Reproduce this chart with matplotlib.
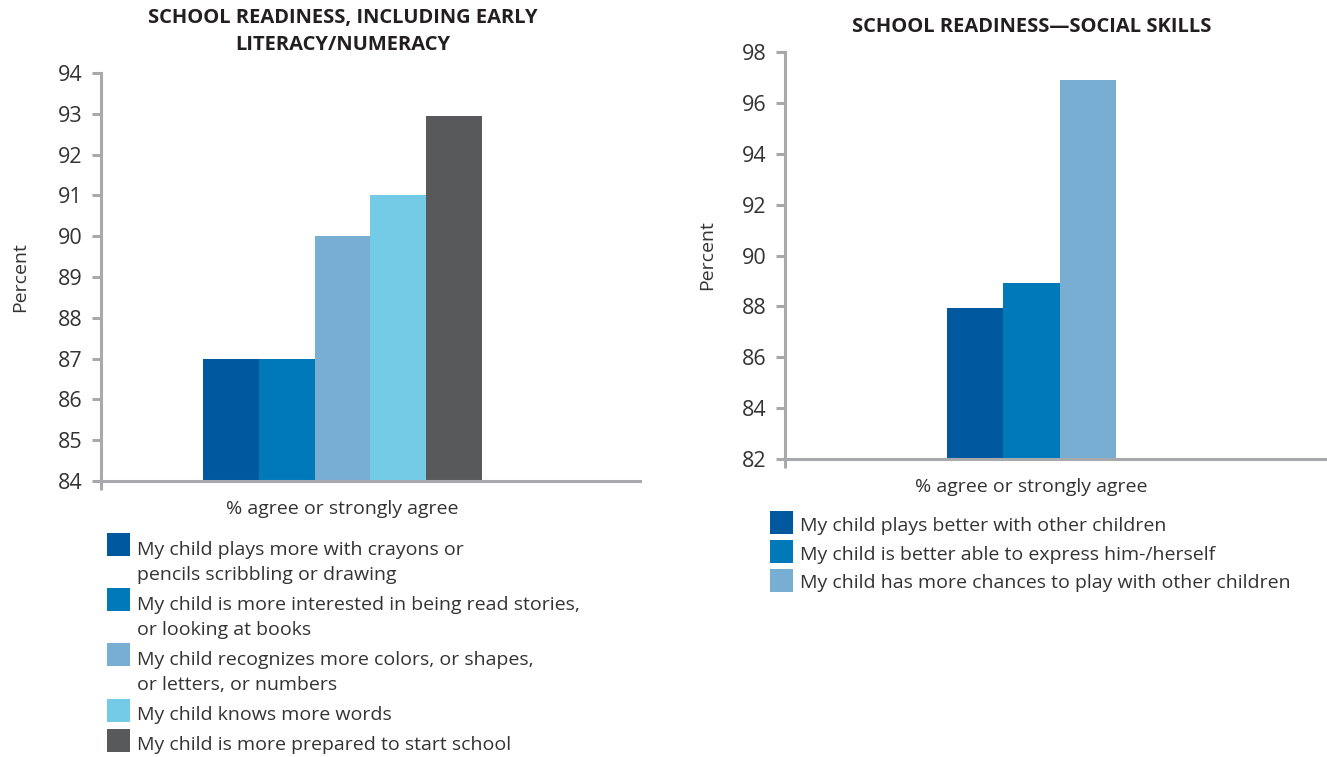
import matplotlib
matplotlib.use("Agg")
import matplotlib.pyplot as plt
from matplotlib.patches import Patch, Rectangle
from matplotlib.legend_handler import HandlerBase

plt.rcParams['font.family'] = ['Open Sans', 'DejaVu Sans']

# ---------------- data ----------------
left_title = "SCHOOL READINESS, INCLUDING EARLY\nLITERACY/NUMERACY"
left_labels = [
    "My child plays more with crayons or\npencils scribbling or drawing",
    "My child is more interested in being read stories,\nor looking at books",
    "My child recognizes more colors, or shapes,\nor letters, or numbers",
    "My child knows more words",
    "My child is more prepared to start school",
]
left_values = [87.0, 87.0, 90.0, 91.0, 92.95]
left_colors = ["#00589f", "#0079b9", "#79aed3", "#74cbe6", "#58595b"]
left_yticks = [84, 85, 86, 87, 88, 89, 90, 91, 92, 93, 94]

right_title = "SCHOOL READINESS\u2014SOCIAL SKILLS"
right_labels = [
    "My child plays better with other children",
    "My child is better able to express him-/herself",
    "My child has more chances to play with other children",
]
right_values = [87.95, 88.9, 96.9]
right_colors = ["#00589f", "#0079b9", "#79aed3"]
right_yticks = [82, 84, 86, 88, 90, 92, 94, 96, 98]

category = "% agree or strongly agree"

# ---------------- figure ----------------
W, H = 1327, 757
fig = plt.figure(figsize=(W / 100, H / 100), dpi=100)

TXT = "#333333"
AXC = "#a7a9ac"
FS = 14          # legend / label font size
LS = 1.52        # legend line spacing
SHIFT_PT = 16 * 0.72    # key offset for two-line labels, points
SQ_PT = 23 * 0.72       # square size in points


def px_axes(x0, y0, x1, y1):
    return fig.add_axes([x0 / W, 1 - y1 / H, (x1 - x0) / W, (y1 - y0) / H])


def style(ax, ylim, yticks):
    ax.set_ylim(*ylim)
    ax.set_yticks(yticks)
    for s in ["top", "right"]:
        ax.spines[s].set_visible(False)
    for s in ["left", "bottom"]:
        ax.spines[s].set_color(AXC)
        ax.spines[s].set_linewidth(2.2)
    ax.tick_params(axis="y", direction="out", length=6.5, width=2.2, color=AXC,
                   labelsize=15.5, labelcolor=TXT, pad=7)
    ax.tick_params(axis="x", length=0, labelsize=FS, labelcolor=TXT, pad=13.5)
    ax.plot([0, 0], [-0.022, 0], transform=ax.transAxes, color=AXC, lw=2.2,
            clip_on=False, solid_capstyle="butt")
    ax.set_ylabel("Percent", fontsize=FS, color=TXT)


def draw(ax, values, colors, bw, xlim):
    n = len(values)
    start = -n * bw / 2
    base = ax.get_ylim()[0]
    for i, (v, c) in enumerate(zip(values, colors)):
        ax.bar(start + i * bw, v - base, bottom=base,
               width=bw, align="edge", color=c, linewidth=0)
    ax.set_xlim(*xlim)
    ax.set_xticks([0])
    ax.set_xticklabels([category])


class SquareTop(HandlerBase):
    """Square legend key aligned with the first line of the label."""

    def __init__(self, bottom_pt):
        super().__init__()
        self.bottom = bottom_pt

    def create_artists(self, legend, orig_handle, xdescent, ydescent,
                       width, height, fontsize, trans):
        n = orig_handle.get_label().count("\n") + 1
        y0 = self.bottom + (n - 1) * SHIFT_PT
        r = Rectangle((-xdescent, y0), SQ_PT, SQ_PT,
                      facecolor=orig_handle.get_facecolor(),
                      edgecolor="none", transform=trans)
        return [r]


# left chart
axL = px_axes(101, 73, 640, 481)
style(axL, (84, 94), left_yticks)
draw(axL, left_values, left_colors, 0.2, (-241.5 / 279, 297.5 / 279))
axL.yaxis.set_label_coords(-0.133, 0.5)
axL.set_title(left_title, fontsize=14.5, fontweight="bold", color="#231f20",
              x=(342.5 - 101) / 539, y=1.0, pad=16.5, linespacing=1.45)

# right chart
axR = px_axes(785, 52, 1327, 459)
style(axR, (82, 98), right_yticks)
draw(axR, right_values, right_colors, 0.2, (-246.5 / 169 * 0.6, 295.5 / 169 * 0.6))
axR.yaxis.set_label_coords(-0.127, 0.5)
axR.set_title(right_title, fontsize=14.5, fontweight="bold", color="#231f20",
              x=(1032 - 785) / 542, y=1.0, pad=14.5)

# legends
hL = [Patch(facecolor=c, edgecolor="none", label=l) for c, l in zip(left_colors, left_labels)]
legL = fig.legend(handles=hL, loc="upper left",
                  bbox_to_anchor=(107 / W, 1 - 541 / H), frameon=False,
                  fontsize=FS, handlelength=23 / (FS * 100 / 72), handleheight=0.7,
                  handletextpad=0.36, labelspacing=0.6, borderpad=0,
                  borderaxespad=0, labelcolor=TXT,
                  handler_map={Patch: SquareTop(-1.5)})
for t in legL.get_texts():
    t.set_linespacing(LS)

hR = [Patch(facecolor=c, edgecolor="none", label=l) for c, l in zip(right_colors, right_labels)]
legR = fig.legend(handles=hR, loc="upper left",
                  bbox_to_anchor=(770 / W, 1 - 517 / H), frameon=False,
                  fontsize=FS, handlelength=23 / (FS * 100 / 72), handleheight=0.7,
                  handletextpad=0.36, labelspacing=0.55, borderpad=0,
                  borderaxespad=0, labelcolor=TXT,
                  handler_map={Patch: SquareTop(-2.5)})

fig.savefig("out.png", dpi=100)
